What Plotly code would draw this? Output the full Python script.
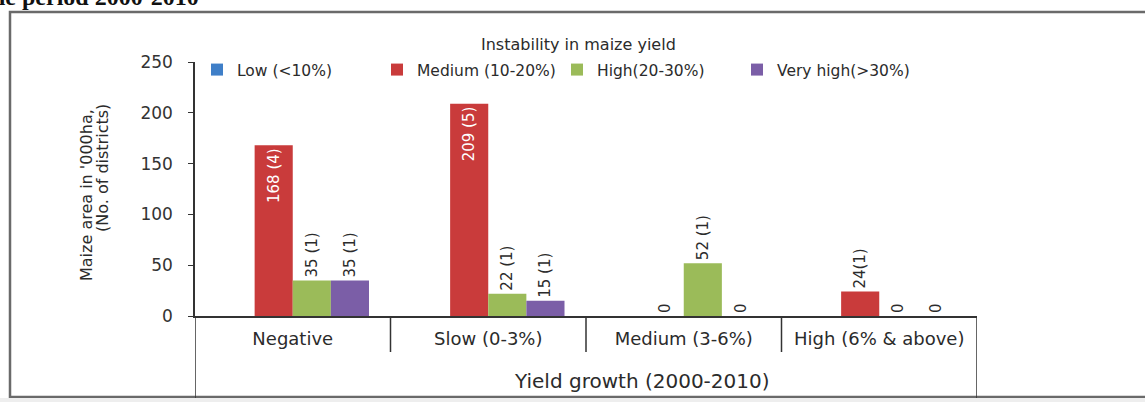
import plotly.graph_objects as go

# Yield growth classes (x axis) and instability classes (series)
growth_classes = ["Negative", "Slow (0-3%)", "Medium (3-6%)", "High (6% & above)"]

low_area = [None, None, None, None]
medium_area = [168, 209, 0, 24]
high_area = [35, 22, 52, 0]
very_high_area = [35, 15, 0, 0]

medium_labels = ["168 (4)", "209 (5)", "0", "24(1)"]
high_labels = ["35 (1)", "22 (1)", "52 (1)", "0"]
very_high_labels = ["35 (1)", "15 (1)", "0", "0"]

y_ticks = [0, 50, 100, 150, 200, 250]

FONT = "DejaVu Sans"
TXT = "#2b2b2b"

W, H = 1145, 402
L, R, T, B = 195, 168, 62, 86
PW, PH = W - L - R, H - T - B


def px(x):
    return (x - L) / PW


def py(y):
    return (H - B - y) / PH


fig = go.Figure()


def add_series(name, values, labels, color, positions):
    fig.add_trace(go.Bar(
        name=name,
        x=growth_classes,
        y=values,
        text=labels,
        textposition=positions,
        textangle=-90,
        insidetextanchor="end",
        constraintext="none",
        cliponaxis=False,
        insidetextfont=dict(family=FONT, size=15, color="white"),
        outsidetextfont=dict(family=FONT, size=15, color=TXT),
        marker=dict(color=color, line=dict(width=0)),
    ))


add_series("Low (<10%)", low_area, None, "#3f7fc8", "none")
add_series("Medium (10-20%)", medium_area, medium_labels, "#c93b3b",
           ["inside", "inside", "outside", "outside"])
add_series("High(20-30%)", high_area, high_labels, "#9bbb59", "outside")
add_series("Very high(>30%)", very_high_area, very_high_labels, "#7b5ea7", "outside")

shapes = [
    # outer frame of the figure panel
    dict(type="rect", xref="paper", yref="paper", x0=px(10), x1=px(1160),
         y0=py(397), y1=py(12), line=dict(color="#6a6a6a", width=2.5)),
    dict(type="rect", xref="paper", yref="paper", x0=px(0), x1=px(1145),
         y0=py(402), y1=py(398), line=dict(width=0), fillcolor="#eeeeee"),
    # category separators below the x axis
    dict(type="line", xref="x", yref="paper", x0=-0.5, x1=-0.5, y0=0, y1=py(398),
         line=dict(color="#333", width=1.5)),
    dict(type="line", xref="x", yref="paper", x0=3.5, x1=3.5, y0=0, y1=py(398),
         line=dict(color="#333", width=1.5)),
]
for b in [0.5, 1.5, 2.5]:
    shapes.append(dict(type="line", xref="x", yref="paper", x0=b, x1=b, y0=0, y1=py(352),
                       line=dict(color="#333", width=1.5)))

annotations = [
    dict(text="Instability in maize yield", xref="paper", yref="paper",
         x=px(578), y=py(45), xanchor="center", yanchor="middle", showarrow=False,
         font=dict(family=FONT, size=16, color=TXT)),
    dict(text="Maize area in '000ha,", xref="paper", yref="paper",
         x=px(86), y=py(195), xanchor="center", yanchor="middle", textangle=-90,
         showarrow=False, font=dict(family=FONT, size=16, color=TXT)),
    dict(text="(No. of districts)", xref="paper", yref="paper",
         x=px(102), y=py(168), xanchor="center", yanchor="middle", textangle=-90,
         showarrow=False, font=dict(family=FONT, size=16, color=TXT)),
    dict(text="Yield growth (2000-2010)", xref="paper", yref="paper",
         x=px(642), y=py(381), xanchor="center", yanchor="middle", showarrow=False,
         font=dict(family=FONT, size=20, color=TXT)),
    dict(text="<b>the period 2000-2010</b>", xref="paper", yref="paper",
         x=px(201), y=py(-3), xanchor="right", yanchor="middle", showarrow=False,
         font=dict(family="Liberation Serif", size=24, color="#111")),
]

fig.update_layout(
    width=W, height=H,
    margin=dict(l=L, r=R, t=T, b=B, pad=0),
    paper_bgcolor="white", plot_bgcolor="white",
    barmode="group", bargap=0.22, bargroupgap=0,
    showlegend=True,
    legend=dict(orientation="h", x=px(197), y=py(70), xanchor="left", yanchor="middle",
                font=dict(family=FONT, size=15.5, color=TXT), entrywidth=135,
                entrywidthmode="pixels", bgcolor="rgba(0,0,0,0)", itemclick=False),
    xaxis=dict(range=[-0.5, 3.5], showline=True, linecolor="#333", linewidth=1.5,
               ticks="", showgrid=False, tickfont=dict(family=FONT, size=18, color=TXT),
               ticklabelstandoff=6),
    yaxis=dict(range=[0, 250], tickvals=y_ticks, showline=True, linecolor="#333",
               linewidth=1.5, ticks="outside", ticklen=5, tickcolor="#333",
               showgrid=False, zeroline=False,
               tickfont=dict(family=FONT, size=17, color="#333"), ticklabelstandoff=12),
    shapes=shapes,
    annotations=annotations,
)

fig.write_html("out.html")
